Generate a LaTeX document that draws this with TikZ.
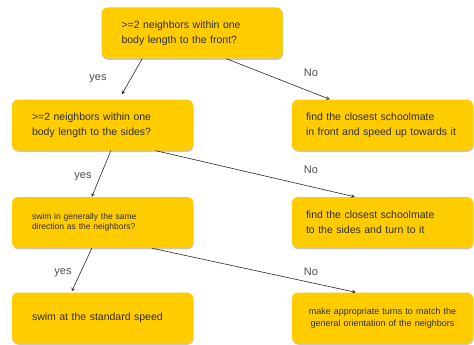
\documentclass[tikz,border=0pt]{standalone}
\usepackage{fontspec}
\setmainfont{Liberation Sans}
\usetikzlibrary{shadows}
\definecolor{boxgold}{HTML}{FFCC00}
\definecolor{inkgray}{HTML}{2E2E2E}
\newcommand{\boxfont}{\fontsize{10.5}{15}\selectfont}

\begin{document}
\begin{tikzpicture}[x=1pt, y=-1pt,
    box/.style={rectangle, rounded corners=6pt, fill=boxgold,
        drop shadow={shadow xshift=0.6pt, shadow yshift=-1.3pt, fill=black, opacity=0.22},
        minimum width=181pt, minimum height=51pt, text width=153pt, inner xsep=14pt,
        align=left, font=\boxfont, text=inkgray},
    lbl/.style={font=\fontsize{11}{13}\selectfont, text=black!70},
    arr/.style={-stealth, line width=0.6pt, draw=black!85}]
    \useasboundingbox (0,0) rectangle (474,345);

    \node[box, text width=141pt, inner xsep=20pt] (q1) at (192,33)
        {>=2 neighbors within one\\body length to the front?};
    \node[box, text width=141pt, inner xsep=20pt] (q2) at (102.5,125)
        {>=2 neighbors within one\\body length to the sides?};
    \node[box] (act1) at (382.5,125) {find the closest schoolmate\\in front and speed up towards it};
    \node[box, text width=141pt, inner xsep=20pt, font=\fontsize{8.5}{10.5}\selectfont] (q3)
        at (102.5,222.5) {swim in generally the same\\direction as the neighbors?};
    \node[box] (act2) at (382.5,222.5) {find the closest schoolmate\\to the sides and turn to it};
    \node[box, text width=141pt, inner xsep=20pt] (act3) at (102.5,318) {swim at the standard speed};
    \node[box, text width=160pt, inner xsep=10.5pt, align=center,
        font=\fontsize{9}{11.5}\selectfont] (act4) at (382.5,318)
        {make appropriate turns to match the\\general orientation of the neighbors};

    \draw[arr] ([xshift=41pt]q1.south west) -- ([xshift=110pt,yshift=5pt]q2.north west);
    \draw[arr] ([xshift=125pt]q1.south west) -- ([xshift=38pt]act1.north west);
    \draw[arr] ([xshift=99pt]q2.south west) -- ([xshift=80pt]q3.north west);
    \draw[arr] ([xshift=144pt]q2.south west) -- ([xshift=63pt]act2.north west);
    \draw[arr] ([xshift=80pt]q3.south west) -- ([xshift=60pt,yshift=1pt]act3.north west);
    \draw[arr] ([xshift=140pt]q3.south west) -- ([xshift=64pt]act4.north west);

    \node[lbl] (yes1) at (98,79) {yes};
    \node[lbl] (no1) at (311,73) {No};
    \node[lbl] (yes2) at (83,177) {yes};
    \node[lbl] (no2) at (311,170) {No};
    \node[lbl] (yes3) at (63,273) {yes};
    \node[lbl] (no3) at (311,272) {No};
\end{tikzpicture}
\end{document}
